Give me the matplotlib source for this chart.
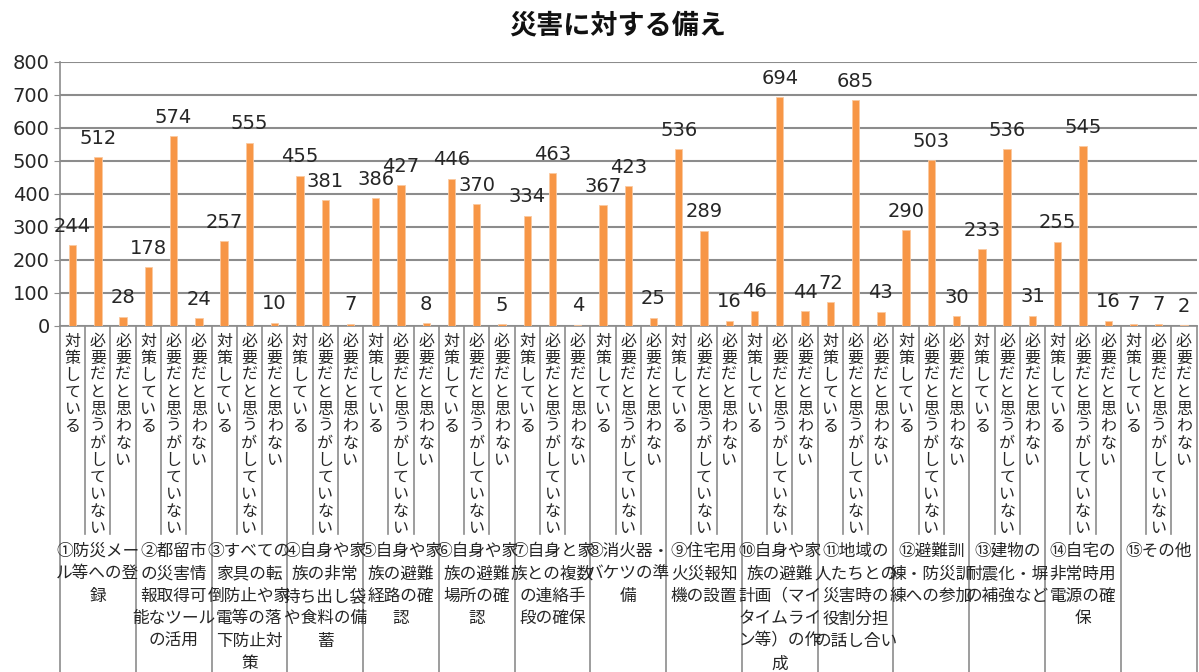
import matplotlib
matplotlib.use("Agg")
import matplotlib.pyplot as plt
from matplotlib.transforms import blended_transform_factory

plt.rcParams['font.family'] = ['Noto Sans CJK JP', 'DejaVu Sans']

# data
answers = ["対策している", "必要だと思うがしていない", "必要だと思わない"]
groups = [
    "①防災メー\nル等への登\n録",
    "②都留市\nの災害情\n報取得可\n能なツール\nの活用",
    "③すべての\n家具の転\n倒防止や家\n電等の落\n下防止対\n策",
    "④自身や家\n族の非常\n持ち出し袋\nや食料の備\n蓄",
    "⑤自身や家\n族の避難\n経路の確\n認",
    "⑥自身や家\n族の避難\n場所の確\n認",
    "⑦自身と家\n族との複数\nの連絡手\n段の確保",
    "⑧消火器・\nバケツの準\n備",
    "⑨住宅用\n火災報知\n機の設置",
    "⑩自身や家\n族の避難\n計画（マイ\nタイムライ\nン等）の作\n成",
    "⑪地域の\n人たちとの\n災害時の\n役割分担\nの話し合い",
    "⑫避難訓\n練・防災訓\n練への参加",
    "⑬建物の\n耐震化・塀\nの補強など",
    "⑭自宅の\n非常時用\n電源の確\n保",
    "⑮その他",
]
taisaku = [244, 178, 257, 455, 386, 446, 334, 367, 536, 46, 72, 290, 233, 255, 7]
hitsuyou = [512, 574, 555, 381, 427, 370, 463, 423, 289, 694, 685, 503, 536, 545, 7]
fuyou = [28, 24, 10, 7, 8, 5, 4, 25, 16, 44, 43, 30, 31, 16, 2]

values = []
labels = []
for a, b, c in zip(taisaku, hitsuyou, fuyou):
    values += [a, b, c]
    labels += answers
x = list(range(len(values)))

fig = plt.figure(figsize=(11.99, 6.72), dpi=100)
ax = fig.add_axes([0.050, 0.515, 0.948, 0.393])

grid_c = '#8c8c8c'
text_c = '#262626'

ax.bar(x, values, width=0.29, color='#F79646', edgecolor='#FBC9A0', linewidth=0.6, zorder=3)
for xi, v in zip(x, values):
    ax.annotate(str(v), (xi, v), xytext=(0, 13.5), textcoords='offset points',
                ha='center', va='center', fontsize=14, color=text_c,
                family=['DejaVu Sans'])

ax.set_xlim(-0.5, len(values) - 0.5)
ax.set_ylim(0, 800)
ax.set_yticks(range(0, 801, 100))
ax.tick_params(axis='y', labelsize=14, colors=text_c, length=4, color=grid_c)
for t in ax.get_yticklabels():
    t.set_family(['DejaVu Sans'])
ax.set_xticks([])
ax.grid(axis='y', color=grid_c, linewidth=1.5, zorder=0)
for s in ['top', 'right']:
    ax.spines[s].set_visible(False)
ax.spines['left'].set_color(grid_c)
ax.spines['bottom'].set_color(grid_c)
ax.spines['left'].set_linewidth(1.2)
ax.spines['bottom'].set_linewidth(1.2)

# category labels written vertically
tr = blended_transform_factory(ax.transData, fig.transFigure)
for xi, lab in zip(x, labels):
    ax.text(xi, 0.505, "\n".join(lab), transform=tr, ha='center', va='top',
            fontsize=11.5, linespacing=1.0, color=text_c)

# separators
for i in range(len(values) + 1):
    bottom = 0.0 if i % 3 == 0 else 0.205
    ax.plot([i - 0.5, i - 0.5], [0.515, bottom], transform=tr, color=grid_c,
            linewidth=1.2, clip_on=False)

# group labels
for g, name in enumerate(groups):
    ax.text(3 * g + 1, 0.192, name, transform=tr, ha='center', va='top',
            fontsize=12, linespacing=1.42, color=text_c)

fig.text(0.515, 0.962, "災害に対する備え", ha='center', va='center',
         fontsize=19.5, fontweight='bold', color='#111111')

fig.savefig("out.png", dpi=100)
